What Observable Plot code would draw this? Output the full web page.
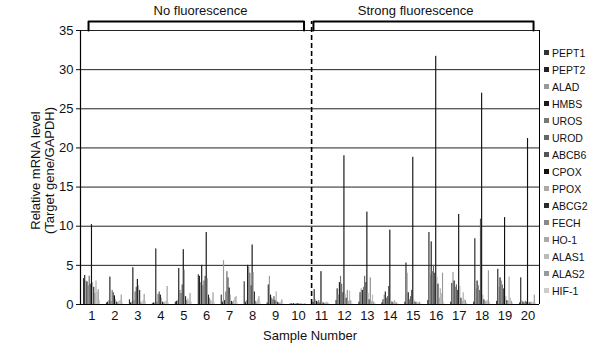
<!DOCTYPE html>
<html><head><meta charset="utf-8">
<script src="https://cdn.jsdelivr.net/npm/d3@7"></script>
<script src="https://cdn.jsdelivr.net/npm/@observablehq/plot@0.6"></script>
<style>
body{margin:0;background:#fff;}
#wrap{position:relative;width:610px;height:343px;font-family:"Liberation Sans",Arial,sans-serif;}
#legend{position:absolute;left:544px;top:44px;font-family:"Liberation Sans Narrow","Liberation Sans",Arial,sans-serif;font-size:10.5px;color:#111;}
.item{height:17px;display:flex;align-items:center;}
.sw{width:5px;height:5px;margin-right:3px;}
</style></head><body><div id="wrap"><div id="legend"></div></div>
<script>
const genes = ["PEPT1","PEPT2","ALAD","HMBS","UROS","UROD","ABCB6","CPOX","PPOX","ABCG2","FECH","HO-1","ALAS1","ALAS2","HIF-1"];
const geneColors = ["#333","#222","#999","#1a1a1a","#777","#666","#555","#111","#aaa","#2a2a2a","#888","#aaa","#bbb","#999","#ccc"];
const samples = [1,2,3,4,5,6,7,8,9,10,11,12,13,14,15,16,17,18,19,20];
const groups = [{label:"No fluorescence", from:1, to:10},{label:"Strong fluorescence", from:11, to:20}];
const yTicks = [0,5,10,15,20,25,30,35];

const s1  = [3.3,3.7,3.0,2.9,2.4,3.6,2.6,10.2,2.8,2.2,1.4,3.0,1.6,1.9,0.5];
const s2  = [0.2,0.3,0.5,3.5,0.4,1.8,1.5,1.1,0.6,0.3,0.2,0.4,0.5,1.2,0.2];
const s3  = [0.6,0.2,0.3,4.7,0.5,1.6,2.2,3.2,2.4,1.8,0.3,0.2,0.5,1.3,0.4];
const s4  = [0.1,0.2,0.2,7.1,0.3,1.3,1.6,1.2,0.8,0.3,0.2,0.3,0.4,2.3,0.2];
const s5  = [0.3,0.4,0.5,4.6,1.8,1.4,2.5,7.0,4.4,1.0,0.5,0.7,0.4,1.4,0.3];
const s6  = [3.8,3.6,2.8,5.0,2.4,3.0,3.6,9.2,3.3,1.2,0.8,0.5,0.4,1.5,0.3];
const s7  = [1.2,0.3,5.6,0.5,1.6,4.2,3.4,2.1,1.2,0.4,0.3,0.5,0.9,1.0,0.2];
const s8  = [2.9,0.3,0.5,5.0,4.8,4.0,2.4,7.6,4.1,1.6,0.4,0.3,0.6,1.0,0.3];
const s9  = [0.2,2.5,3.6,1.2,0.8,0.6,1.0,0.5,1.6,0.3,0.2,0.2,0.3,0.6,0.1];
const s10 = [0.05,0.1,0.05,0.1,0.05,0.05,0.1,0.1,0.05,0.05,0.05,0.05,0.05,0.1,0.05];
const s11 = [0.3,1.9,0.6,0.4,0.3,0.5,0.2,4.2,0.3,0.2,0.1,0.2,0.3,0.2,0.1];
const s12 = [0.5,2.0,1.2,2.8,3.6,2.6,1.5,19.0,1.3,0.8,1.8,0.4,1.7,0.5,0.2];
const s13 = [0.3,1.5,2.0,1.8,2.2,3.6,2.8,11.8,1.4,0.6,3.4,0.4,1.2,0.3,0.2];
const s14 = [0.2,0.6,1.2,1.6,0.8,1.0,2.3,9.5,0.4,0.3,0.2,0.5,0.3,0.2,0.1];
const s15 = [0.3,5.3,4.0,1.5,0.6,1.0,1.8,18.8,0.6,0.3,0.3,0.2,0.2,0.3,0.1];
const s16 = [0.5,9.2,3.8,8.0,4.2,5.0,4.0,31.7,3.5,2.6,0.8,2.0,1.4,4.0,0.3];
const s17 = [0.3,2.7,4.1,3.0,2.2,2.5,1.8,11.5,2.3,0.8,0.4,1.5,0.6,0.5,0.2];
const s18 = [0.3,8.4,2.0,3.0,2.4,1.8,10.9,27.0,1.2,0.6,0.4,0.4,0.5,4.3,0.3];
const s19 = [0.4,4.5,2.2,3.4,3.0,2.5,2.0,11.1,1.0,0.5,0.4,3.5,0.8,0.4,0.2];
const s20 = [0.2,3.4,0.5,0.3,0.2,0.4,0.3,21.2,0.3,0.2,0.3,0.2,0.3,1.2,0.1];
const sampleValues = [s1,s2,s3,s4,s5,s6,s7,s8,s9,s10,s11,s12,s13,s14,s15,s16,s17,s18,s19,s20];

const groupW = 0.74, barW = groupW / genes.length;
const rows = [];
samples.forEach((s, si) => genes.forEach((g, gi) => {
  const x1 = s - groupW/2 + gi*barW;
  rows.push({sample:s, gene:g, x1, x2:x1+barW, value:sampleValues[si][gi]});
}));

const bracketTop = 36.15;
const bracketPts = [];
groups.forEach((g, i) => {
  const a = g.from === 1 ? 0.85 : 10.65, b = g.to + 0.24;
  [[a,35],[a,bracketTop],[b,bracketTop],[b,35]].forEach(([x,y]) => bracketPts.push({grp:i, x, y}));
});

const chart = Plot.plot({
  width: 610, height: 343,
  marginLeft: 80, marginRight: 71, marginTop: 30, marginBottom: 39,
  style: {fontFamily: '"Liberation Sans", Arial, sans-serif', fontSize: "13px", background: "#fff", color: "#111"},
  x: {type: "linear", domain: [0.5, 20.5], ticks: samples, tickSize: 0, tickPadding: 6, tickFormat: d => d,
      label: "Sample Number", labelAnchor: "center", labelArrow: "none", labelOffset: 35},
  y: {domain: [0, 35], ticks: yTicks, tickSize: 4, tickPadding: 3, label: null},
  color: {domain: genes, range: geneColors},
  marks: [
    Plot.ruleY(yTicks.filter(d => d > 0), {stroke: "#222", strokeWidth: 1}),
    Plot.rectY(rows, {x1: "x1", x2: "x2", y: "value", fill: "gene", inset: 0}),
    Plot.ruleY([0], {stroke: "#000", strokeWidth: 1}),
    Plot.ruleX([0.5], {y1: 0, y2: 35, stroke: "#000", strokeWidth: 1.2}),
    Plot.ruleX([20.5], {y1: 0, y2: 35, stroke: "#000", strokeWidth: 1}),
    Plot.ruleX([10.57], {y1: 0, y2: bracketTop, stroke: "#000", strokeWidth: 1.6, strokeDasharray: "5,3"}),
    Plot.line(bracketPts, {x: "x", y: "y", z: "grp", stroke: "#000", strokeWidth: 2}),
    Plot.text(groups, {x: d => d.from === 1 ? 5.73 : 15.1, y: 37.45, text: "label", fontSize: 13, fill: "#111"}),
    Plot.text(["Relative mRNA level\n(Target gene/GAPDH)"], {frameAnchor: "left", textAnchor: "middle", dx: -38, dy: 3, rotate: -90, fontSize: 13, lineHeight: 1.1, fill: "#111"})
  ]
});
const wrap = document.getElementById("wrap");
wrap.insertBefore(chart, wrap.firstChild);

const legend = document.getElementById("legend");
genes.forEach((g, i) => {
  const it = document.createElement("div"); it.className = "item";
  const sw = document.createElement("span"); sw.className = "sw"; sw.style.background = geneColors[i];
  it.appendChild(sw); it.appendChild(document.createTextNode(g));
  legend.appendChild(it);
});
</script></body></html>
